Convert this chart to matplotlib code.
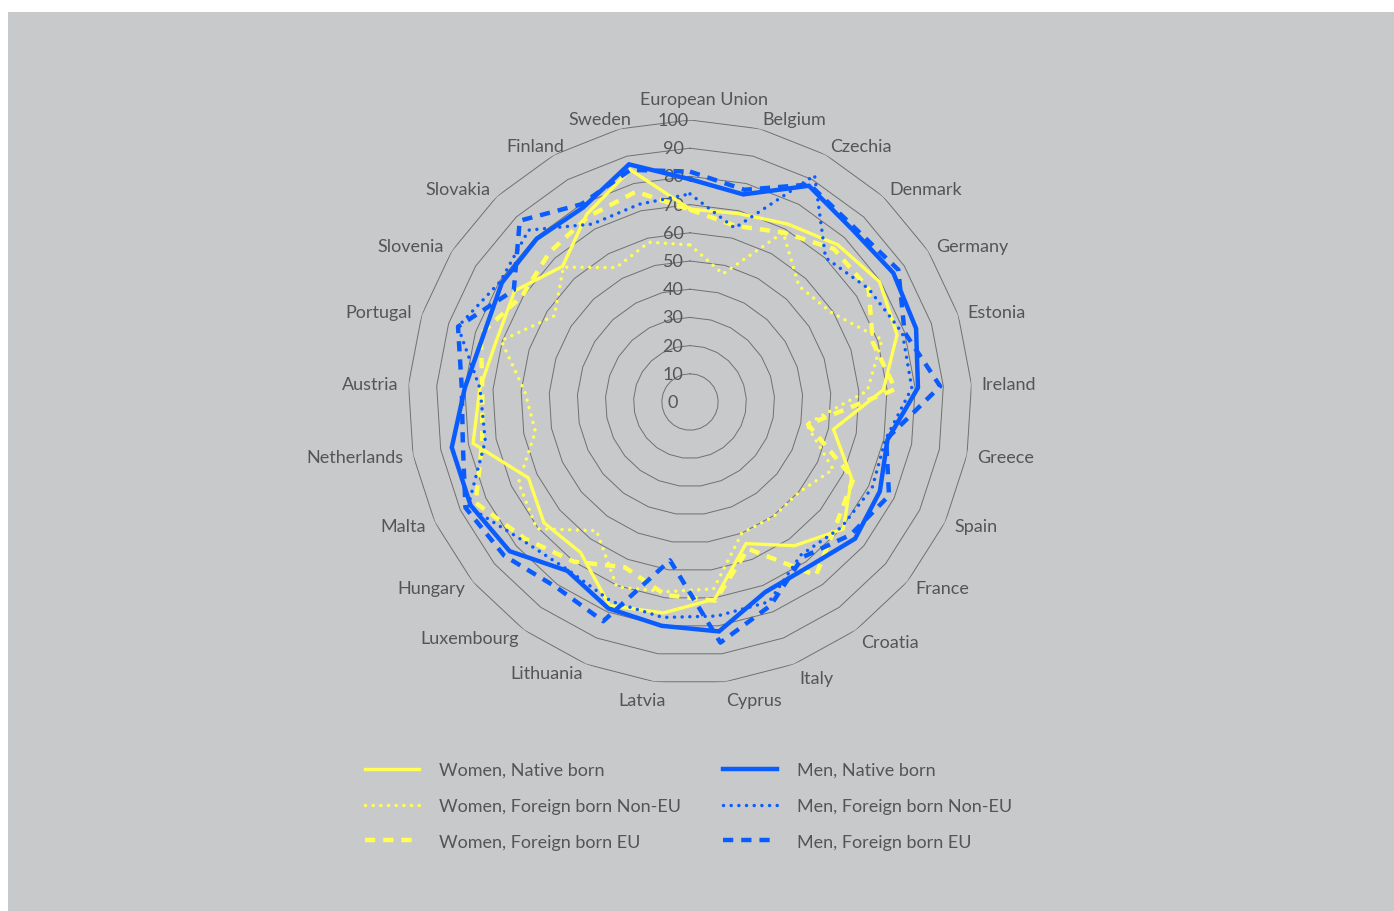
import numpy as np
import matplotlib.pyplot as plt
from matplotlib.patches import Rectangle
from matplotlib.transforms import offset_copy

plt.rcParams['font.family'] = ['Lato', 'DejaVu Sans']

countries = ["European Union", "Belgium", "Czechia", "Denmark", "Germany", "Estonia",
             "Ireland", "Greece", "Spain", "France", "Croatia", "Italy", "Cyprus",
             "Latvia", "Lithuania", "Luxembourg", "Hungary", "Malta", "Netherlands",
             "Austria", "Portugal", "Slovenia", "Slovakia", "Finland", "Sweden"]

women_native = [68.4, 69, 72, 76.5, 79.6, 77.2, 68.7, 51.8, 63.3, 70.6, 63, 54, 70.4,
                75.4, 77.6, 66, 67.2, 63.3, 78.3, 74.7, 72, 73.6, 66, 76, 85]
women_noneu = [55.7, 46.9, 68.6, 56.4, 59.3, 71.6, 63, 42, 56.1, 50.2, 50.3, 50, 66.8,
               67.8, 70.5, 56.4, 70.5, 67.2, 55.8, 58.7, 70.4, 57, 65.6, 54.4, 58.5]
women_eu = [68.2, 64.5, 68.6, 74.5, 75, 68.2, 73, 42.6, 64, 67.5, 76, 56, 71,
            69, 63, 70, 76, 84, 75, 73.8, 78, 70.4, 72.8, 75, 77]
men_native = [79, 76, 87.5, 84, 85.4, 84.3, 81, 71.3, 74.4, 76, 72, 72.5, 82,
              80, 78.7, 74, 83, 86, 86, 80, 77, 79, 79.4, 78.7, 87]
men_noneu = [73.8, 63.7, 91.7, 70.2, 75, 79.2, 78.8, 70.6, 71.4, 69.7, 67, 76.2, 76.5,
             77, 76, 73.6, 77, 87, 73.9, 74.6, 86.5, 79.7, 83.6, 72, 72.4]
men_eu = [81.7, 77.7, 88, 85, 87.5, 80, 88.9, 70.8, 78, 73.9, 68, 77.6, 86,
          56.6, 83.6, 81, 85.5, 88, 82, 81.1, 86.5, 74, 88.2, 80, 85]

ticks = list(range(0, 101, 10))

YELLOW = "#ffff55"
BLUE = "#0a5cff"
BG = "#c8c9cb"
TXT = "#555555"
FS = 13

W, H = 1394, 912
fig = plt.figure(figsize=(W / 100, H / 100), dpi=100, facecolor="white")
fig.patches.append(Rectangle((8 / W, 0), (W - 8) / W, (H - 13) / H,
                             transform=fig.transFigure, facecolor=BG,
                             edgecolor="none", zorder=-10))

cx, cy, R = 690, 403, 282
ax = fig.add_axes([(cx - R) / W, (H - cy - R) / H, 2 * R / W, 2 * R / H],
                  projection="polar")
ax.set_theta_zero_location("N")
ax.set_theta_direction(-1)
ax.set_ylim(0, 100)
ax.patch.set_alpha(0)
ax.spines["polar"].set_visible(False)
ax.grid(False)
ax.set_xticks([])
ax.set_yticks([])

n = len(countries)
theta = np.arange(n) * 2 * np.pi / n
theta_c = np.append(theta, theta[0])

# polygon grid
for t in ticks[1:]:
    ax.plot(theta_c, [t] * (n + 1), color="#707070", lw=0.7, zorder=1)

# scale labels
tick_tr = offset_copy(ax.transData, fig=fig, x=-17, y=0, units="dots")
for t in ticks:
    ax.text(0, t, str(t), transform=tick_tr, ha="center", va="center",
            fontsize=FS, color=TXT, zorder=2)

# category labels (small pixel nudges where the original layout drifts)
nudge = {"European Union": (14, 0), "Sweden": (14, 0), "Finland": (15, 0),
         "Latvia": (12, 0), "Italy": (2, -5), "Croatia": (0, -4)}
for th, name in zip(theta, countries):
    s, c = np.sin(th), np.cos(th)
    ha = "center" if abs(s) < 0.05 else ("left" if s > 0 else "right")
    va = "center"
    r = 103.5
    if c > 0.99:
        va, r = "bottom", 104.5
    elif c < -0.98:
        va = "top"
    dx, dy = nudge.get(name, (0, 0))
    tr = offset_copy(ax.transData, fig=fig, x=dx, y=dy, units="dots")
    ax.text(th, r, name, transform=tr, ha=ha, va=va, fontsize=FS, color=TXT,
            clip_on=False)

def close(v):
    return list(v) + [v[0]]

dot = (0, (0.01, 2.2))
dash = (0, (2.3, 1.8))
series = [
    (women_native, "Women, Native born", YELLOW, "-", 2.4),
    (women_noneu, "Women, Foreign born Non-EU", YELLOW, dot, 2.5),
    (women_eu, "Women, Foreign born EU", YELLOW, dash, 3.2),
    (men_native, "Men, Native born", BLUE, "-", 3.2),
    (men_noneu, "Men, Foreign born Non-EU", BLUE, dot, 2.5),
    (men_eu, "Men, Foreign born EU", BLUE, dash, 3.2),
]
handles = []
for vals, lab, col, ls, lw in series:
    capstyle = "round" if ls == dot else "butt"
    h, = ax.plot(theta_c, close(vals), color=col, ls=ls, lw=lw, label=lab,
                 dash_capstyle=capstyle, solid_joinstyle="miter", zorder=3)
    handles.append(h)

fig.legend(handles=handles, loc="upper left",
           bbox_to_anchor=(365 / W, 1 - 763 / H), ncol=2, frameon=False,
           fontsize=FS, handlelength=3.0, handletextpad=1.1,
           columnspacing=2.3, labelspacing=1.1, borderpad=0, borderaxespad=0,
           labelcolor=TXT)

fig.savefig("out.png", dpi=100, facecolor="white")
